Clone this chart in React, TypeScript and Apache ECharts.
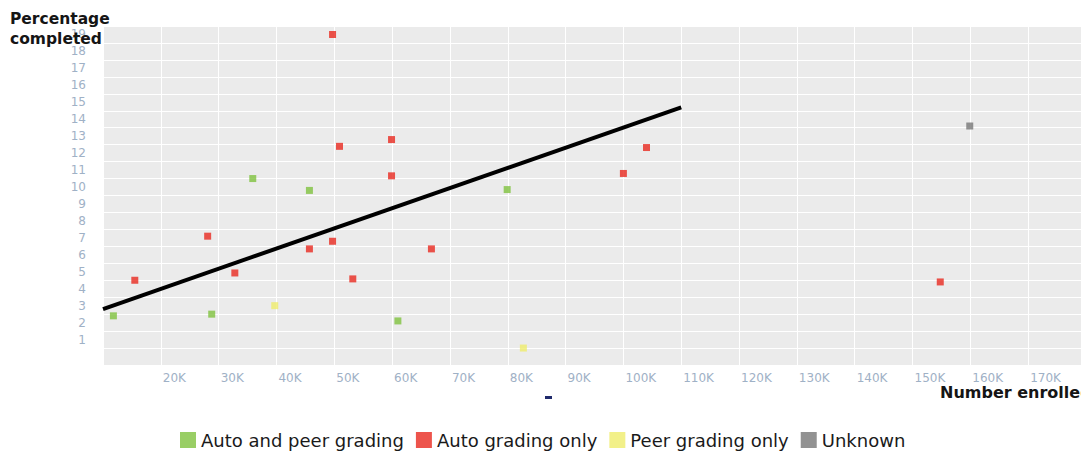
import React, { useEffect, useRef } from "react";
import * as echarts from "echarts";

// Number enrolled (thousands), percentage completed
const autoAndPeer: number[][] = [
  [11.8, 2.9], [28.8, 3.0], [35.9, 11.0], [45.7, 10.3], [61.0, 2.6], [79.9, 10.35],
];
const autoOnly: number[][] = [
  [15.5, 5.0], [28.1, 7.6], [32.8, 5.43], [45.7, 6.85], [49.7, 19.5], [49.7, 7.3],
  [50.9, 12.9], [53.2, 5.08], [59.9, 13.3], [59.9, 11.16], [66.8, 6.85],
  [100.0, 11.3], [104.0, 12.83], [154.8, 4.9],
];
const peerOnly: number[][] = [
  [39.7, 3.5], [82.7, 1.0],
];
const unknown: number[][] = [
  [159.9, 14.1],
];
const trendLine: number[][] = [
  [10, 3.3], [110, 15.2],
];
const seriesNames = ["Auto and peer grading", "Auto grading only", "Peer grading only", "Unknown"];
const xTickLabels = [20, 30, 40, 50, 60, 70, 80, 90, 100, 110, 120, 130, 140, 150, 160, 170];
const yTickLabels = [1, 2, 3, 4, 5, 6, 7, 8, 9, 10, 11, 12, 13, 14, 15, 16, 17, 18, 19];

const colors = ["#7fc23f", "#e8291f", "#efec6c", "#777777"];

export default function App() {
  const ref = useRef<HTMLDivElement>(null);
  useEffect(() => {
    document.body.style.margin = "0";
    if (!ref.current) return;
    const chart = echarts.init(ref.current, undefined, { renderer: "svg" });
    const labelColor = "#9fb1c6";
    const scatter = (name: string, data: number[][], color: string) => ({
      name,
      type: "scatter",
      data,
      symbol: "rect",
      symbolSize: 7,
      itemStyle: { color },
      z: 3,
    });
    chart.setOption({
      animation: false,
      textStyle: { fontFamily: "DejaVu Sans" },
      grid: {
        left: 103,
        top: 26,
        right: 0,
        height: 339,
        show: true,
        backgroundColor: "#ebebeb",
        borderWidth: 0,
      },
      xAxis: {
        type: "value",
        min: 10,
        max: 179.14,
        interval: 10,
        axisLine: { show: false },
        axisTick: { show: false },
        splitLine: { show: true, lineStyle: { color: "#ffffff", width: 1 } },
        axisLabel: {
          color: labelColor,
          fontSize: 12,
          align: "left",
          margin: 7,
          padding: [0, 0, 0, 2],
          showMaxLabel: false,
          formatter: (v: number) => (xTickLabels.includes(v) ? `${v}K` : ""),
        },
      },
      yAxis: {
        type: "value",
        min: 0,
        max: 20,
        interval: 1,
        axisLine: { show: false },
        axisTick: { show: false },
        splitLine: { show: true, lineStyle: { color: "#ffffff", width: 1 } },
        axisLabel: {
          color: labelColor,
          fontSize: 12,
          margin: 17,
          verticalAlign: "bottom",
          lineHeight: 17,
          formatter: (v: number) => (yTickLabels.includes(v) ? String(v) : ""),
        },
      },
      legend: {
        data: seriesNames,
        left: 180,
        top: 431,
        padding: 0,
        icon: "rect",
        itemWidth: 16,
        itemHeight: 16,
        itemGap: 12,
        textStyle: { fontSize: 18, color: "#1a1a1a", fontFamily: "DejaVu Sans" },
      },
      series: [
        scatter(seriesNames[0], autoAndPeer, colors[0]),
        scatter(seriesNames[1], autoOnly, colors[1]),
        scatter(seriesNames[2], peerOnly, colors[2]),
        scatter(seriesNames[3], unknown, colors[3]),
        {
          name: "trend",
          type: "line",
          data: trendLine,
          symbol: "none",
          lineStyle: { color: "#000000", width: 4 },
          z: 4,
        },
      ],
      graphic: [
        {
          type: "text",
          x: 10,
          y: 19,
          z: 10,
          style: { text: "Percentage", font: 'bold 15.5px "DejaVu Sans"', fill: "#151515", verticalAlign: "middle" },
        },
        {
          type: "text",
          x: 10,
          y: 39,
          z: 10,
          style: { text: "completed", font: 'bold 15.5px "DejaVu Sans"', fill: "#151515", verticalAlign: "middle" },
        },
        {
          type: "text",
          x: 940,
          y: 392,
          z: 10,
          style: { text: "Number enrolled", font: 'bold 16px "DejaVu Sans"', fill: "#151515", verticalAlign: "middle" },
        },
        {
          type: "rect",
          shape: { x: 545, y: 396, width: 7, height: 3 },
          style: { fill: "#1f2a6b" },
        },
      ],
    });
    return () => chart.dispose();
  }, []);
  return <div ref={ref} style={{ width: 1081, height: 453 }} />;
}
